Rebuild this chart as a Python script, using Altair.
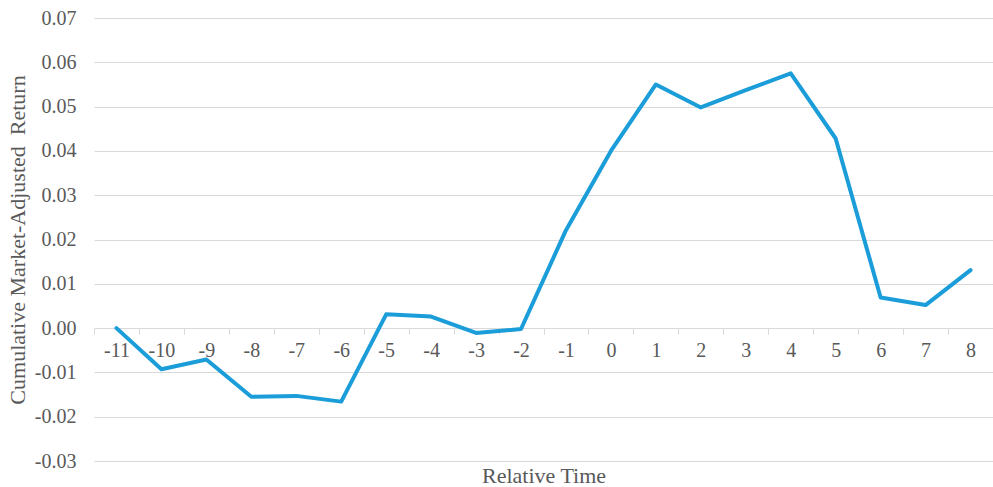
import altair as alt
import pandas as pd

# Event-study cumulative market-adjusted returns by relative time
relative_time = [-11, -10, -9, -8, -7, -6, -5, -4, -3, -2, -1, 0, 1, 2, 3, 4, 5, 6, 7, 8]
car = [0.0000, -0.0093, -0.0071, -0.0155, -0.0153, -0.0166, 0.0031, 0.0026, -0.0011, -0.0002,
       0.0221, 0.0400, 0.0550, 0.0498, 0.0537, 0.0575, 0.0428, 0.0069, 0.0052, 0.0131]
y_ticks = [-0.03, -0.02, -0.01, 0.00, 0.01, 0.02, 0.03, 0.04, 0.05, 0.06, 0.07]

labels = [str(t) for t in relative_time]
df = pd.DataFrame({"t": labels, "car": car})

W, H = 899, 443
Y_MIN, Y_MAX = y_ticks[0], y_ticks[-1]
# move the category axis up so it crosses the value axis at zero
x_axis_offset = -H * (0 - Y_MIN) / (Y_MAX - Y_MIN)

FONT = "'Liberation Serif', 'Times New Roman', serif"
TEXT = "#595959"
GRID = "#d9d9d9"

chart = (
    alt.Chart(df)
    .mark_line(color="#1b9dd9", strokeWidth=4, strokeJoin="round", strokeCap="round")
    .encode(
        x=alt.X(
            "t:O",
            sort=labels,
            scale=alt.Scale(paddingInner=0, paddingOuter=0),
            axis=alt.Axis(
                title="Relative Time",
                offset=x_axis_offset,
                domain=False,
                grid=False,
                ticks=True,
                tickBand="extent",
                tickColor=GRID,
                tickSize=6,
                tickWidth=1,
                labelAngle=0,
                labelFont=FONT,
                labelFontSize=20,
                labelColor=TEXT,
                labelPadding=6,
                titleFont=FONT,
                titleFontSize=22,
                titleFontWeight="normal",
                titleColor=TEXT,
                titleBaseline="alphabetic",
                titleY=154,
            ),
        ),
        y=alt.Y(
            "car:Q",
            scale=alt.Scale(domain=[Y_MIN, Y_MAX], nice=False, zero=False),
            axis=alt.Axis(
                title="Cumulative Market-Adjusted\u00a0 Return",
                values=y_ticks,
                labelExpr="(datum.value < -0.000001 ? '-' : '') + format(abs(datum.value), '.2f')",
                domain=False,
                ticks=False,
                grid=True,
                gridColor=GRID,
                gridWidth=1.2,
                labelFont=FONT,
                labelFontSize=20,
                labelColor=TEXT,
                labelPadding=18,
                titleFont=FONT,
                titleFontSize=22,
                titleFontWeight="normal",
                titleColor=TEXT,
                titleBaseline="middle",
                titleX=-77,
            ),
        ),
    )
    .properties(
        width=W,
        height=H,
        autosize=alt.AutoSizeParams(type="none"),
        padding={"left": 94, "top": 18, "right": 0, "bottom": 26},
        background="white",
    )
    .configure_view(stroke=None)
)

chart.save("out.html", embed_options={"renderer": "svg", "actions": False})
